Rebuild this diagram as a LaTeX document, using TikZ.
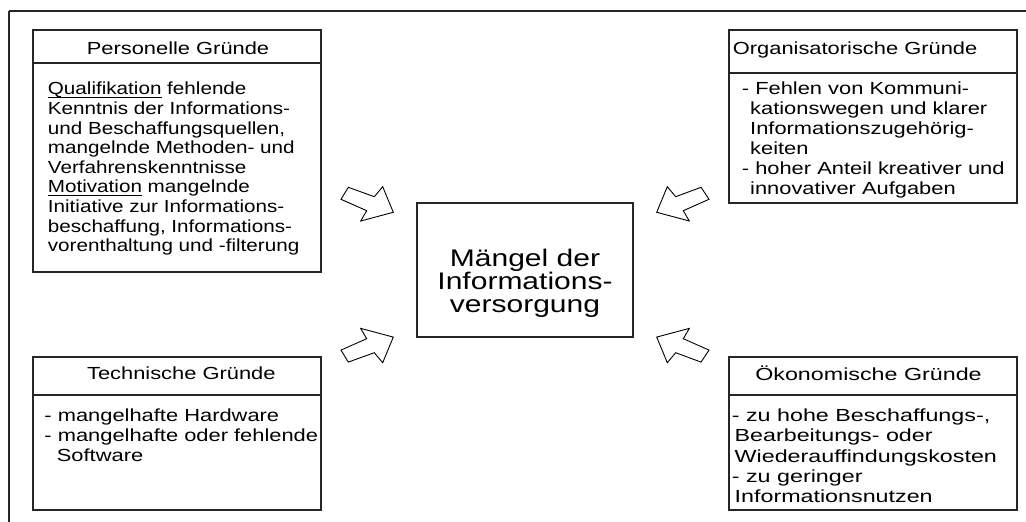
\documentclass[tikz,border=0pt]{standalone}
\usepackage{fontspec}
\setmainfont{Liberation Sans}[FakeStretch=1.25]
\newfontfamily\narrowsans{Liberation Sans}[FakeStretch=1.18]
\newfontfamily\widesans{Liberation Sans}[FakeStretch=1.33]

% text sizes
\newcommand\bodysize{\fontsize{17.5bp}{19.7bp}\selectfont}
\newcommand\titlesize{\fontsize{24bp}{23bp}\selectfont}
% one line of a stacked text block
\newcommand\tline[1]{\hbox{#1}}
% stacked lines; the block's baseline is the baseline of its first line
\newcommand\leftlines[2]{\vtop{\baselineskip=#1\relax\lineskiplimit=-\maxdimen\lineskip=0pt#2}}
\newcommand\centerlines[2]{\vtop{\baselineskip=#1\relax\lineskiplimit=-\maxdimen\halign{\hfil##\hfil\cr#2\crcr}}}
% underlined keyword
\newcommand\ulword[1]{\setbox0=\hbox{#1}\rlap{\rule[-2.6bp]{\wd0}{1bp}}\box0\relax}

\tikzset{
  reasonbox/.style={draw=black!85, line width=1.1bp, fill=none, inner sep=0pt,
    minimum width=288bp},
  divider/.style={draw=black!85, line width=1.1bp},
  headtext/.style={inner sep=0pt, font=\bodysize, anchor=base},
  bodytext/.style={inner sep=0pt, fill=white, font=\bodysize, anchor=base west},
  maintext/.style={inner sep=0pt, font=\titlesize, anchor=base},
  blockarrow/.style={draw=black, fill=white, line width=0.9bp, line join=miter},
  frameline/.style={draw=black!85}
}

\begin{document}
\begin{tikzpicture}[x=1bp, y=-1bp]
\useasboundingbox (0,0) rectangle (1026,522);

% page frame (top and left edge)
\draw[frameline, line width=1.3bp] (8.5,11) -- (1026,11);
\draw[frameline, line width=2.2bp] (9,11) -- (9,522);

% central box
\node[reasonbox, minimum width=216bp, minimum height=134bp] (mangel) at (525,270) {};
\node[maintext] (mangeltext) at (525,266.5)
  {\centerlines{23bp}{Mängel der\cr Informations-\cr versorgung}};

% personnel reasons
\node[reasonbox, minimum height=242bp] (pers) at (177,151) {};
\draw[divider] (pers.west |- 0,63) -- (pers.east |- 0,63);
\node[headtext] (pershead) at (178,54.3) {Personelle Gründe};
\node[bodytext, font=\bodysize\narrowsans] (persbody) at (47.7,95) {\leftlines{19.6bp}{%
  \tline{\ulword{Qualifikation} fehlende}%
  \tline{Kenntnis der Informations-}%
  \tline{und Beschaffungsquellen,}%
  \tline{mangelnde Methoden- und}%
  \tline{Verfahrenskenntnisse}%
  \tline{\ulword{Motivation} mangelnde}%
  \tline{Initiative zur Informations-}%
  \tline{beschaffung, Informations-}%
  \tline{vorenthaltung und -filterung}}};

% organisational reasons
\node[reasonbox, minimum height=173bp] (org) at (873,116.5) {};
\draw[divider] (org.west |- 0,73) -- (org.east |- 0,73);
\node[headtext, anchor=base west] (orghead) at (732.7,54.3) {Organisatorische Gründe};
\node[bodytext] (orgbody) at (741.7,95) {\leftlines{20bp}{%
  \tline{- Fehlen von Kommuni-}%
  \tline{\kern8.3bp kationswegen und klarer}%
  \tline{\kern8.3bp Informationszugehörig-}%
  \tline{\kern8.3bp keiten}%
  \tline{- hoher Anteil kreativer und}%
  \tline{\kern8.3bp innovativer Aufgaben}}};

% technical reasons
\node[reasonbox, minimum height=153bp] (tech) at (177,433.5) {};
\draw[divider] (tech.west |- 0,395) -- (tech.east |- 0,395);
\node[headtext] (techhead) at (181.3,380) {Technische Gründe};
\node[bodytext] (techbody) at (44.3,421.7) {\leftlines{20bp}{%
  \tline{- mangelhafte Hardware}%
  \tline{- mangelhafte oder fehlende}%
  \tline{\kern12.4bp Software}}};

% economic reasons
\node[reasonbox, minimum height=153bp] (oek) at (873,433.5) {};
\draw[divider] (oek.west |- 0,395) -- (oek.east |- 0,395);
\node[headtext, font=\bodysize\widesans] (oekhead) at (868.5,381) {Ökonomische Gründe};
\node[bodytext, font=\bodysize\widesans] (oekbody) at (731.7,421.7) {\leftlines{20.25bp}{%
  \tline{- zu hohe Beschaffungs-,}%
  \tline{\kern2.8bp Bearbeitungs- oder}%
  \tline{\kern2.8bp Wiederauffindungskosten}%
  \tline{- zu geringer}%
  \tline{\kern2.8bp Informationsnutzen}}};

% block arrows pointing at the central box
\draw[blockarrow] (348.3,187.3) -- (374.3,196.7) -- (382.7,186.7) -- (393.3,212.3)
  -- (360.7,221) -- (366.7,210.7) -- (341,199.3) -- cycle;
\draw[blockarrow] (701,187.3) -- (675.7,196.7) -- (667.3,186.7) -- (656.7,212.3)
  -- (689.3,221) -- (683.3,210.7) -- (709,199.3) -- cycle;
\draw[blockarrow] (348.3,362.1) -- (374.3,352.7) -- (382.7,362.7) -- (393.3,337.1)
  -- (360.7,328.4) -- (366.7,338.7) -- (341,350.1) -- cycle;
\draw[blockarrow] (701,362.1) -- (675.7,352.7) -- (667.3,362.7) -- (656.7,337.1)
  -- (689.3,328.4) -- (683.3,338.7) -- (709,350.1) -- cycle;
\end{tikzpicture}
\end{document}
